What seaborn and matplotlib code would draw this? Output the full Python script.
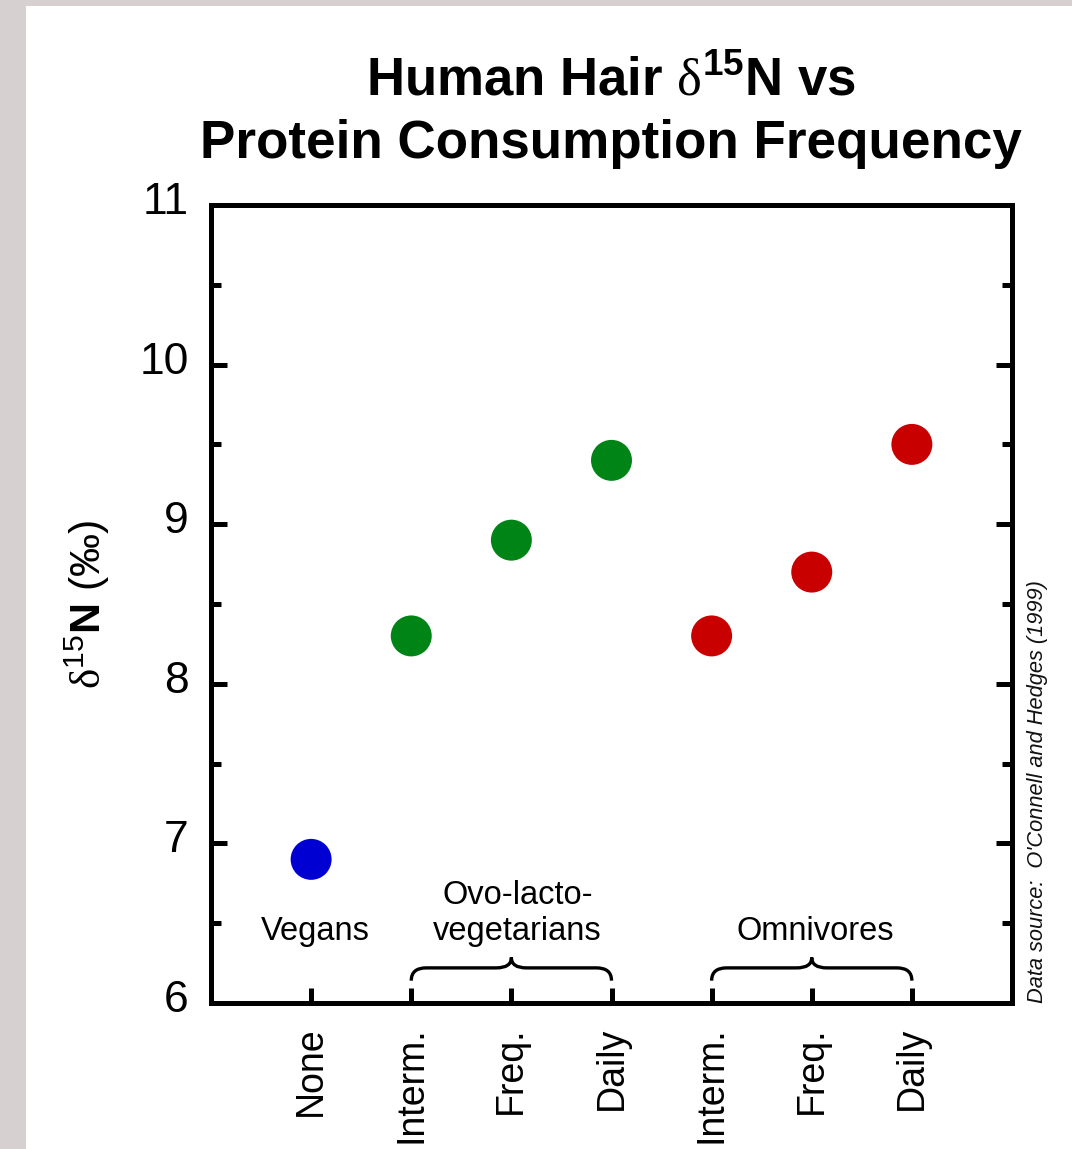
import matplotlib
matplotlib.use("Agg")
import matplotlib.pyplot as plt
import seaborn as sns
import numpy as np
import pandas as pd
from matplotlib.path import Path
from matplotlib.patches import PathPatch, Rectangle
from matplotlib.transforms import ScaledTranslation

# ---- data ----
tick_labels = ["None", "Interm.", "Freq.", "Daily", "Interm.", "Freq.", "Daily"]
groups = ["Vegans", "OLV", "OLV", "OLV", "Omni", "Omni", "Omni"]
d15n = [6.9, 8.3, 8.9, 9.4, 8.3, 8.7, 9.5]
palette = {"Vegans": "#0000d2", "OLV": "#008416", "Omni": "#c80000"}
group_labels = ["Vegans", "Ovo-lacto-\nvegetarians", "Omnivores"]
group_label_x = [1.04, 3.06, 6.03]
group_label_y = [6.35, 6.35, 6.35]
brace_spans = [(2, 4), (5, 7)]

df = pd.DataFrame({"pos": np.arange(1, len(d15n) + 1), "d15n": d15n, "group": groups})

sns.set_theme(style="white")
plt.rcParams["font.family"] = ["Liberation Sans", "DejaVu Sans"]
plt.rcParams["mathtext.fontset"] = "custom"
plt.rcParams["mathtext.rm"] = "Liberation Serif"
plt.rcParams["mathtext.sf"] = "Liberation Sans"
plt.rcParams["mathtext.bf"] = "Liberation Sans:bold"
plt.rcParams["mathtext.it"] = "Liberation Sans:italic"
plt.rcParams["text.color"] = "black"
plt.rcParams["axes.labelcolor"] = "black"
plt.rcParams["xtick.color"] = "black"
plt.rcParams["ytick.color"] = "black"

fig = plt.figure(figsize=(10.72, 11.49), dpi=100)
fig.patch.set_facecolor("#d6d1d0")
fig.patches.append(Rectangle((26 / 1072, 0), 1, 1 - 6 / 1149, transform=fig.transFigure,
                             facecolor="white", edgecolor="none", zorder=-5))

ax = fig.add_axes([211 / 1072, 1 - 1003 / 1149, (1012 - 211) / 1072, (1003 - 205) / 1149])
ax.set_zorder(3)
ax.set_facecolor("white")

sns.scatterplot(data=df, x="pos", y="d15n", hue="group", palette=palette, s=870,
                edgecolor="none", legend=False, ax=ax, zorder=3, clip_on=False)

ax.set_xlim(0, 8)
ax.set_ylim(6, 11)
ax.set_xticks(df["pos"])
ax.set_xticklabels(tick_labels, rotation=90, fontsize=27)
ax.set_yticks(np.arange(6, 12, 1))
ax.set_yticks(np.arange(6.5, 11, 1), minor=True)
ax.set_yticklabels([str(v) for v in range(6, 12)], fontsize=32)

for s in ax.spines.values():
    s.set_linewidth(3.6)
    s.set_color("black")

ax.tick_params(axis="y", which="major", direction="in", length=11.5, width=3.6,
               left=True, right=True, pad=16, colors="black")
ax.tick_params(axis="y", which="minor", direction="in", length=7, width=3.6,
               left=True, right=True)
ax.tick_params(axis="x", which="major", direction="in", length=11, width=3.6,
               bottom=True, top=False, pad=17, colors="black")
ax.set_xlabel("")
ax.set_ylabel(r"$\mathrm{\delta}^{\mathsf{15}}\mathbf{N}$ (‰)", fontsize=31)
ax.yaxis.set_label_coords(-0.124, 0.5)
ax.grid(False)

shift = ScaledTranslation(0, 7 / 100, fig.dpi_scale_trans)
for lab in ax.get_yticklabels():
    lab.set_transform(lab.get_transform() + shift)

# group labels
for lab, gx, gy in zip(group_labels, group_label_x, group_label_y):
    ax.text(gx, gy, lab, ha="center", va="bottom", fontsize=23.5, linespacing=1.2)

# braces
ylo, ymid, ytop, r = 6.14, 6.22, 6.285, 0.15
for x0, x1 in brace_spans:
    xm = (x0 + x1) / 2
    verts = [(x0, ylo), (x0, ymid), (x0 + r, ymid),
             (xm - r, ymid),
             (xm, ymid), (xm, ytop),
             (xm, ymid), (xm + r, ymid),
             (x1 - r, ymid),
             (x1, ymid), (x1, ylo)]
    codes = [Path.MOVETO, Path.CURVE3, Path.CURVE3,
             Path.LINETO,
             Path.CURVE3, Path.CURVE3,
             Path.CURVE3, Path.CURVE3,
             Path.LINETO,
             Path.CURVE3, Path.CURVE3]
    ax.add_patch(PathPatch(Path(verts, codes), facecolor="none", edgecolor="black",
                           linewidth=2.4, zorder=4))

# title
fig.text(611 / 1072, 1 - 95 / 1149, r"Human Hair $\mathrm{\delta}^{\mathbf{15}}$N vs",
         ha="center", va="baseline", fontsize=38, fontweight="bold")
fig.text(611 / 1072, 1 - 158 / 1149, "Protein Consumption Frequency",
         ha="center", va="baseline", fontsize=38.2, fontweight="bold")

# data source
fig.text(1038 / 1072, 1 - 1003 / 1149, "Data source:  O'Connell and Hedges (1999)",
         rotation=90, ha="center", va="bottom", fontsize=15.7, fontstyle="italic",
         color="#111111")

fig.savefig("out.png", dpi=100, facecolor=fig.get_facecolor())
